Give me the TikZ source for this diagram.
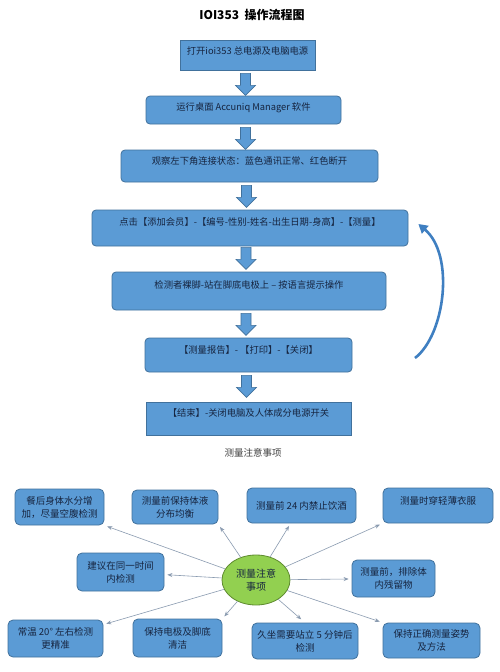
\documentclass[tikz,border=0pt]{standalone}
\usepackage{fontspec}
\setmainfont{Noto Sans CJK SC}
\usetikzlibrary{shapes.geometric, arrows.meta}
\definecolor{boxblue}{HTML}{5B9BD5}
\definecolor{boxline}{HTML}{41719C}
\definecolor{boxtext}{HTML}{16243F}
\definecolor{loopblue}{HTML}{3F7FC1}
\definecolor{notegreen}{HTML}{92D050}
\definecolor{noteline}{HTML}{5E8B2E}
\definecolor{tipline}{HTML}{8A9BB0}
\tikzset{
	dims/.style 2 args={minimum width=#1pt, minimum height=#2pt},
	lift/.style={text height=8pt, text depth=#1pt},
	flow/.style={draw=boxline, fill=boxblue, line width=0.8pt, rounded corners=4pt, inner sep=0pt, text=boxtext, font=\fontsize{9.3}{12}\selectfont, lift=8},
	flowsq/.style={flow, rounded corners=0pt},
	tip/.style={draw=boxline, fill=boxblue, line width=0.8pt, rounded corners=5pt, inner sep=0pt, align=center, text=boxtext, font=\fontsize{9.5}{13}\selectfont},
	tiparrow/.style={draw=tipline, line width=0.6pt, -{Stealth[length=5pt,width=4pt]}, shorten >=3pt},
	downarrow/.pic={\filldraw[fill=boxblue, draw=boxline, line width=0.6pt] (-5,0) -- (5,0) -- (5,-12) -- (10,-12) -- (0,-22) -- (-10,-12) -- (-5,-12) -- cycle;}
}
\begin{document}
\begin{tikzpicture}[x=1pt, y=1pt]
	\fill[white] (0,0) rectangle (500,-672);
	\useasboundingbox (0,0) rectangle (500,-672);
	\node[font=\fontsize{12}{14}\selectfont\bfseries] (title) at (252,-15) {IOI353\ \ 操作流程图};

	\node[flowsq, dims={135}{30}, lift=9] (open) at (247.5,-55) {打开ioi353 总电源及电脑电源};
	\node[flow, dims={195}{28}] (launch) at (243.5,-110) {运行桌面 Accuniq Manager 软件};
	\node[flow, dims={257}{32}, lift=11] (status) at (249.5,-166) {观察左下角连接状态：蓝色通讯正常、红色断开};
	\node[flow, dims={316}{36}, lift=13] (check) at (250,-228) {点击【添加会员】-【编号-性别-姓名-出生日期-身高】-【测量】};
	\node[flow, dims={274}{38}, lift=13] (stand) at (249,-291) {检测者裸脚-站在脚底电极上 – 按语言提示操作};
	\node[flow, dims={207}{34}, lift=12] (report) at (248.5,-355) {【测量报告】- 【打印】-【关闭】};
	\node[flowsq, dims={205}{33}, lift=12] (finish) at (248.5,-418.5) {【结束】-关闭电脑及人体成分电源开关};

	\pic at ([xshift=-2pt, yshift=-3pt]open.south) {downarrow};
	\pic at ([xshift=2pt, yshift=-3pt]launch.south) {downarrow};
	\pic at ([xshift=-3pt, yshift=-3pt]status.south) {downarrow};
	\pic at ([xshift=-4pt, yshift=-1pt]check.south) {downarrow};
	\pic at ([xshift=-3pt, yshift=-3pt]stand.south) {downarrow};
	\pic at ([xshift=-2pt, yshift=-3pt]report.south) {downarrow};

	\coordinate (loopstart) at (415,-358);
	\coordinate (looptip) at ([shift={(10pt,4pt)}]check.east);
	\draw[loopblue, line width=2.6pt, -{Triangle[length=9pt,width=10pt]}] (loopstart) .. controls (445,-335) and (455,-255) .. (looptip);

	\node[font=\fontsize{9.5}{12}\selectfont, text=black!75] (caption) at (253,-453) {测量注意事项};

	\node[ellipse, draw=noteline, fill=notegreen, line width=0.8pt, minimum width=68pt, minimum height=50pt, inner sep=0pt, align=center, text=boxtext, font=\fontsize{10}{13}\selectfont] (notes) at (256,-580) {测量注意\\事项};

	\node[tip, dims={89}{36}] (tipmeal) at (59.5,-507) {餐后身体水分增\\加，尽量空腹检测};
	\node[tip, dims={86}{34}] (tipfluid) at (175,-507) {测量前保持体液\\分布均衡};
	\node[tip, dims={109}{35}] (tipalcohol) at (301.5,-505.5) {测量前 24 内禁止饮酒};
	\node[tip, dims={110}{35}, lift=11] (tipcloth) at (438,-505.5) {测量时穿轻薄衣服};
	\node[tip, dims={87}{38}] (tipsame) at (120.5,-572) {建议在同一时间\\内检测};
	\node[tip, dims={83}{37}] (tipresidue) at (393.5,-578.5) {测量前，排除体\\内残留物};
	\node[tip, dims={95}{37}] (tiptemp) at (55.5,-638.5) {常温 20° 左右检测\\更精准};
	\node[tip, dims={89}{38}] (tipclean) at (177.5,-638) {保持电极及脚底\\清洁};
	\node[tip, dims={106}{36}] (tipstand) at (305,-641) {久坐需要站立 5 分钟后\\检测};
	\node[tip, dims={97}{35}] (tippose) at (431.5,-640.5) {保持正确测量姿势\\及方法};

	\draw[tiparrow] (notes) -- (tipmeal.south east);
	\draw[tiparrow] (notes) -- (tipfluid.south east);
	\draw[tiparrow] (notes) -- (tipalcohol);
	\draw[tiparrow] (notes) -- (tipcloth.south west);
	\draw[tiparrow] (notes) -- (tipsame);
	\draw[tiparrow] (notes) -- (tipresidue);
	\draw[tiparrow] (notes) -- (tiptemp);
	\draw[tiparrow] (notes) -- (tipclean.north east);
	\draw[tiparrow, shorten >=5pt] (notes) -- (tipstand.north);
	\draw[tiparrow] (notes) -- (tippose.north west);
\end{tikzpicture}
\end{document}
